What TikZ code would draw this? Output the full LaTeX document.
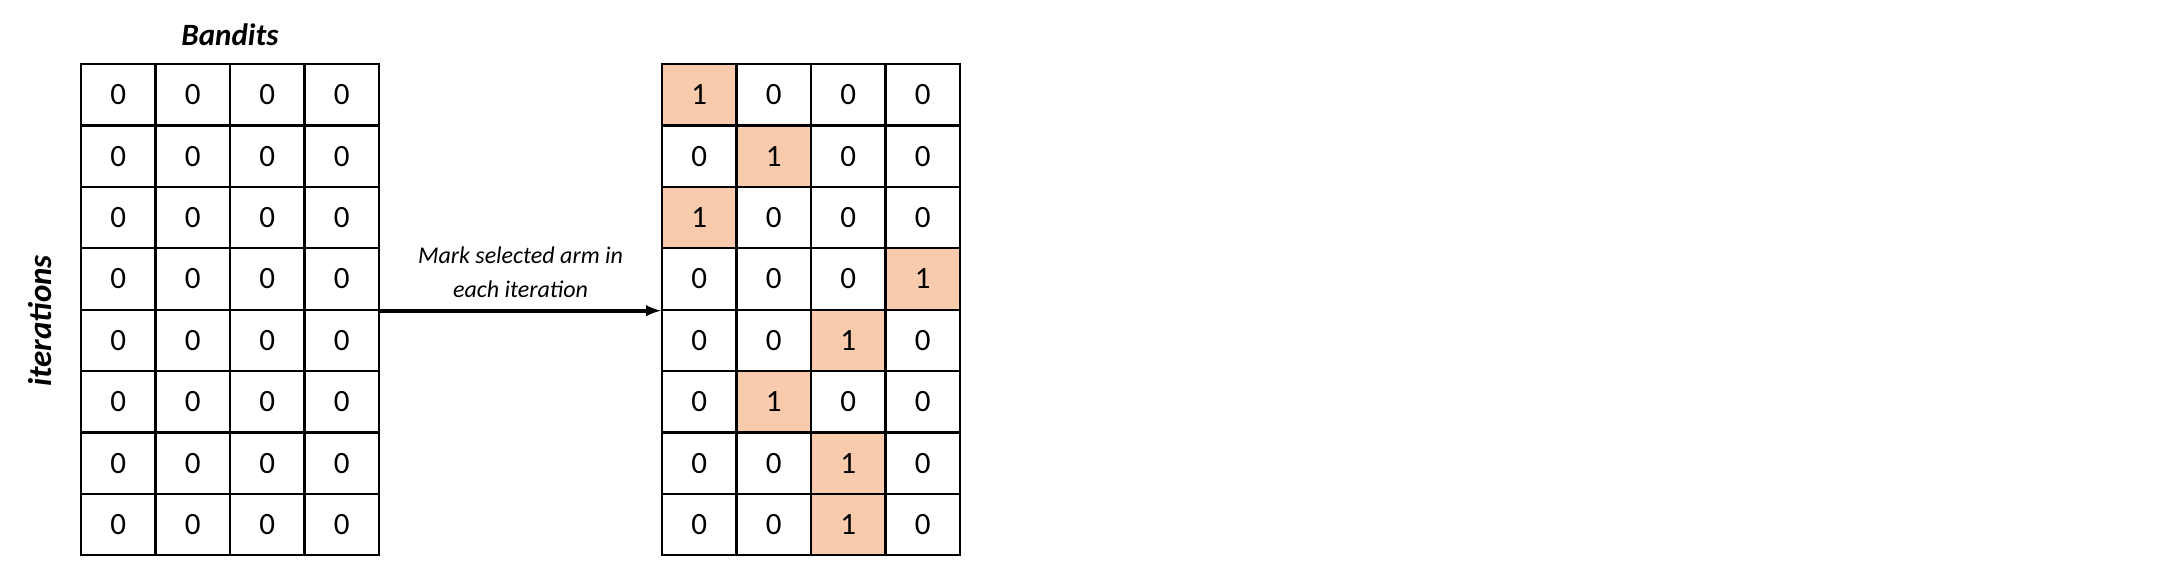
\documentclass[tikz,border=0pt]{standalone}
\usepackage{fontspec}
\setmainfont{Carlito}
\definecolor{peach}{HTML}{F8CBAD}
\begin{document}
\begin{tikzpicture}[x=1pt,y=-1pt,
  cell/.style={draw,line width=2.2pt,minimum width=74.5pt,minimum height=61.4pt,inner sep=0pt,font=\fontsize{31}{31}\selectfont,anchor=center},
  hit/.style={cell,fill=peach}]
\useasboundingbox (0,0) rectangle (2179,566);
\foreach \r in {0,...,7}{
  \foreach \c in {0,...,3}{
    \node[cell] (L\r\c) at ({81+37.25+74.5*\c},{64+30.7+61.4*\r}) {0};
  }
}
\def\ones{{0,1,0,3,2,1,2,2}}
\foreach \r in {0,...,7}{
  \pgfmathtruncatemacro{\k}{\ones[\r]}
  \foreach \c in {0,...,3}{
    \ifnum\c=\k
      \node[hit] (R\r\c) at ({662+37.25+74.5*\c},{64+30.7+61.4*\r}) {1};
    \else
      \node[cell] (R\r\c) at ({662+37.25+74.5*\c},{64+30.7+61.4*\r}) {0};
    \fi
  }
}
\node[font=\fontsize{31}{31}\selectfont\bfseries\itshape] (band) at (230,35) {Bandits};
\node[font=\fontsize{33}{33}\selectfont\bfseries\itshape,rotate=90] (iter) at (40,321) {iterations};
\coordinate (a1) at (L33.south east);
\coordinate (a2) at (R30.south west);
\draw[line width=4pt,-latex] (a1) -- (a2) node[midway,above=8pt,align=center,font=\fontsize{24}{34}\selectfont\itshape] (lab) {Mark selected arm in\\each iteration};
\end{tikzpicture}
\end{document}
